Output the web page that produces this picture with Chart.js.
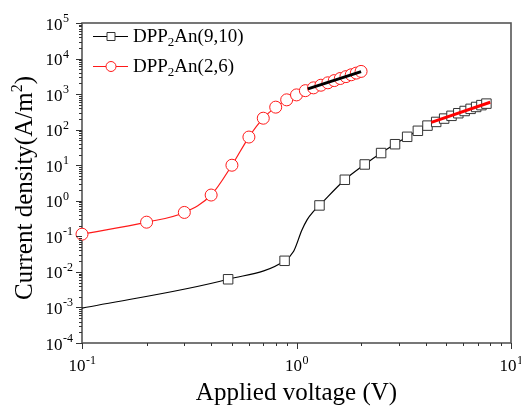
<!DOCTYPE html>
<html><head><meta charset="utf-8">
<script src="https://cdn.jsdelivr.net/npm/chart.js@4"></script>
<style>html,body{margin:0;padding:0;background:#fff;}canvas{display:block;}</style>
</head><body>
<canvas id="c" width="521" height="410"></canvas>
<script>
// ---- data ----
const seriesNames = ['DPP₂An(9,10)', 'DPP₂An(2,6)'];
const xTitle = 'Applied voltage (V)';
const yTitle = ['Current density(A/m', '2', ')'];
const xTickExps = [-1, 0, 1];
const yTickExps = [-4, -3, -2, -1, 0, 1, 2, 3, 4, 5];

// DPP2An(9,10): marked points
const blackMarkerV = [0.48, 0.88, 1.28, 1.68, 2.08, 2.48, 2.88, 3.28, 3.68, 4.08, 4.48, 4.88, 5.28, 5.68, 6.08, 6.48, 6.88, 7.28, 7.68];
const blackMarkerJ = [0.0062, 0.0205, 0.74, 3.9, 10.5, 22, 39, 63, 93, 130, 165, 205, 245, 290, 335, 385, 435, 490, 540];
// DPP2An(9,10): unmarked points of the drawn curve
const blackCurveV = [0.1, 0.97, 1.06, 1.12, 1.2];
const blackCurveJ = [0.00095, 0.038, 0.15, 0.29, 0.5];

// DPP2An(2,6)
const redV = [0.1, 0.2, 0.3, 0.4, 0.5, 0.6, 0.7, 0.8, 0.9, 1.0, 1.1, 1.2, 1.3, 1.4, 1.5, 1.6, 1.7, 1.8, 1.9, 2.0];
const redJ = [0.115, 0.25, 0.47, 1.45, 10, 62, 210, 430, 690, 950, 1250, 1500, 1780, 2080, 2400, 2750, 3100, 3500, 3900, 4350];

// fitted straight lines
const fitOnRedV = [1.13, 2.0];
const fitOnRedJ = [1400, 4300];
const fitOnBlackV = [4.25, 8.0];
const fitOnBlackJ = [160, 590];

// ---- build ----
const pts = (xs, ys) => xs.map((x, i) => ({x: x, y: ys[i]}));
const blackLine = pts(blackMarkerV.concat(blackCurveV), blackMarkerJ.concat(blackCurveJ)).sort((a, b) => a.x - b.x);

const SERIF = '"Liberation Serif", "Times New Roman", serif';
const RED = '#ff1a1a';

function drawPow(ctx, base, exp, x, y, align) {
  // y = baseline of base text
  ctx.font = '17px ' + SERIF;
  const wb = ctx.measureText(base).width;
  ctx.font = '12px ' + SERIF;
  const we = ctx.measureText(exp).width;
  let x0;
  if (align === 'right') x0 = x - wb; else x0 = x - (wb + we) / 2;
  ctx.textAlign = 'left';
  ctx.textBaseline = 'alphabetic';
  ctx.font = '17px ' + SERIF;
  ctx.fillText(base, x0, y);
  ctx.font = '12px ' + SERIF;
  ctx.fillText(exp, x0 + wb + 0.5, y - 7.5);
}

function drawSubText(ctx, text, x, y) {
  const parts = text.split('₂');
  let cx = x;
  ctx.textAlign = 'left';
  ctx.textBaseline = 'alphabetic';
  parts.forEach((p, i) => {
    ctx.font = '19px ' + SERIF;
    ctx.fillText(p, cx, y);
    cx += ctx.measureText(p).width;
    if (i < parts.length - 1) {
      ctx.font = '13px ' + SERIF;
      ctx.fillText('2', cx, y + 4);
      cx += ctx.measureText('2').width;
    }
  });
}

const decor = {
  id: 'decor',
  beforeDatasetsDraw(chart) {
    const {ctx, chartArea: a} = chart;
    ctx.save();
    ctx.strokeStyle = '#555';
    ctx.lineWidth = 1.6;
    ctx.strokeRect(a.left, a.top, a.right - a.left, a.bottom - a.top);
    ctx.restore();
  },
  afterDraw(chart) {
    const {ctx, chartArea: a, scales} = chart;
    const xs = scales.x, ys = scales.y;
    ctx.save();
    ctx.strokeStyle = '#333';
    ctx.lineWidth = 1;
    ctx.fillStyle = '#000';
    // y ticks
    yTickExps.forEach(e => {
      for (let m = 1; m <= 9; m++) {
        const v = m * Math.pow(10, e);
        if (v > ys.max * 1.0001) break;
        const y = Math.round(ys.getPixelForValue(v)) + 0.5;
        const len = m === 1 ? 6 : 3;
        ctx.beginPath(); ctx.moveTo(a.left - len, y); ctx.lineTo(a.left, y); ctx.stroke();
      }
    });
    xTickExps.forEach(e => {
      for (let m = 1; m <= 9; m++) {
        const v = m * Math.pow(10, e);
        if (v > xs.max * 1.0001) break;
        const x = Math.round(xs.getPixelForValue(v)) + 0.5;
        const len = m === 1 ? 6 : 3;
        ctx.beginPath(); ctx.moveTo(x, a.bottom); ctx.lineTo(x, a.bottom + len); ctx.stroke();
      }
    });
    // tick labels
    yTickExps.forEach(e => {
      const y = ys.getPixelForValue(Math.pow(10, e));
      drawPow(ctx, '10', String(e), a.left - 19.5, y + 6.5, 'right');
    });
    xTickExps.forEach(e => {
      const x = xs.getPixelForValue(Math.pow(10, e));
      drawPow(ctx, '10', String(e), x, a.bottom + 28, 'center');
    });
    // x title
    ctx.font = '25px ' + SERIF;
    ctx.textAlign = 'center';
    ctx.textBaseline = 'alphabetic';
    ctx.fillText(xTitle, (a.left + a.right) / 2, 400);
    // y title (rotated)
    ctx.save();
    ctx.translate(32, 188);
    ctx.rotate(-Math.PI / 2);
    ctx.font = '25px ' + SERIF;
    const w0 = ctx.measureText(yTitle[0]).width;
    const w2 = ctx.measureText(yTitle[2]).width;
    ctx.font = '16px ' + SERIF;
    const w1 = ctx.measureText(yTitle[1]).width;
    let tx = -(w0 + w1 + w2) / 2;
    ctx.textAlign = 'left';
    ctx.font = '25px ' + SERIF;
    ctx.fillText(yTitle[0], tx, 0); tx += w0;
    ctx.font = '16px ' + SERIF;
    ctx.fillText(yTitle[1], tx, -10); tx += w1;
    ctx.font = '25px ' + SERIF;
    ctx.fillText(yTitle[2], tx, 0);
    ctx.restore();
    // legend
    const rows = [
      {y: 36.5, color: '#000', mark: 'rect'},
      {y: 66.5, color: RED, mark: 'circle'}
    ];
    rows.forEach((r, i) => {
      ctx.strokeStyle = r.color;
      ctx.lineWidth = 1.2;
      ctx.beginPath(); ctx.moveTo(93, r.y); ctx.lineTo(128, r.y); ctx.stroke();
      ctx.fillStyle = '#fff';
      ctx.lineWidth = 1;
      ctx.strokeStyle = r.mark === 'rect' ? '#333' : r.color;
      ctx.beginPath();
      if (r.mark === 'rect') ctx.rect(107, r.y - 4, 8, 8);
      else ctx.arc(111, r.y, 5, 0, Math.PI * 2);
      ctx.fill(); ctx.stroke();
      ctx.fillStyle = '#000';
      drawSubText(ctx, seriesNames[i], 133, r.y + 5.5);
    });
    ctx.restore();
  }
};

new Chart(document.getElementById('c'), {
  type: 'scatter',
  data: {
    datasets: [
      {label: 'fit1', data: pts(fitOnRedV, fitOnRedJ), showLine: true, borderColor: '#000', borderWidth: 3, pointRadius: 0, clip: false},
      {label: 'fit2', data: pts(fitOnBlackV, fitOnBlackJ), showLine: true, borderColor: '#ff0000', borderWidth: 3, pointRadius: 0, clip: false},
      {label: seriesNames[1], data: pts(redV, redJ), showLine: true, borderColor: RED, borderWidth: 1.2,
        cubicInterpolationMode: 'monotone', pointStyle: 'circle', pointRadius: 6, pointBackgroundColor: '#fff',
        pointBorderColor: RED, pointBorderWidth: 1, clip: false},
      {label: seriesNames[0] + ' markers', data: pts(blackMarkerV, blackMarkerJ), showLine: false,
        pointStyle: 'rect', pointRadius: 6.7, pointBackgroundColor: '#fff', pointBorderColor: '#333', pointBorderWidth: 1, clip: false},
      {label: seriesNames[0], data: blackLine, showLine: true, borderColor: '#000', borderWidth: 1.2,
        cubicInterpolationMode: 'monotone', pointRadius: 0}
    ]
  },
  options: {
    responsive: false,
    animation: false,
    devicePixelRatio: 1,
    layout: {padding: {left: 82, top: 23, right: 10, bottom: 67}},
    plugins: {legend: {display: false}, tooltip: {enabled: false}},
    scales: {
      x: {type: 'logarithmic', min: 0.1, max: 10, display: false},
      y: {type: 'logarithmic', min: 1e-4, max: 1e5, display: false}
    }
  },
  plugins: [decor]
});
</script>
</body></html>
